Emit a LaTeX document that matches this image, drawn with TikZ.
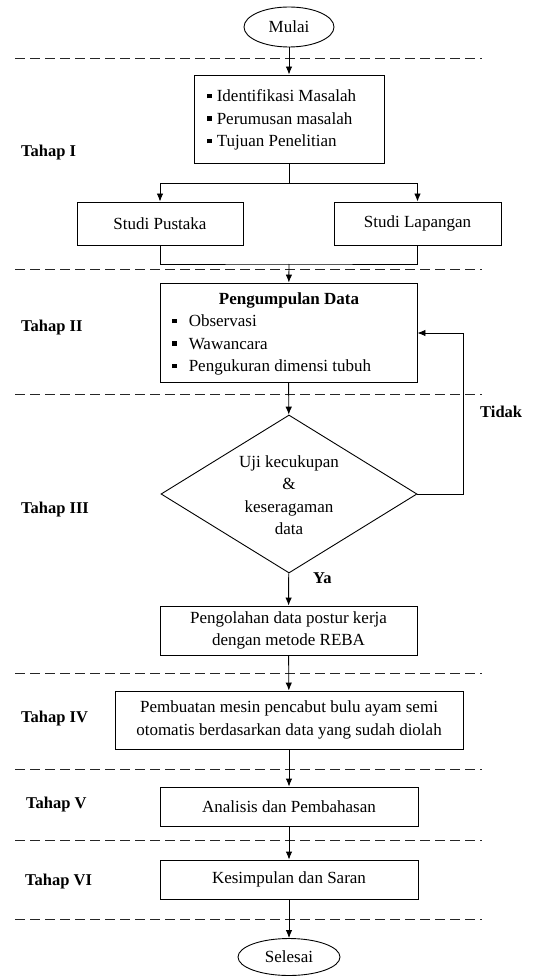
\documentclass[tikz,border=0pt]{standalone}
\usepackage{fontspec}
\setmainfont{Liberation Serif}
\usetikzlibrary{arrows.meta,shapes.geometric}
\newcommand{\sqbul}{\rule[0.2em]{0.27em}{0.27em}}
\begin{document}
\begin{tikzpicture}[x=1pt,y=-1pt,
 box/.style={draw,line width=0.9pt,inner sep=0pt,font=\fontsize{17}{22.5}\selectfont,align=center},
 txt/.style={inner sep=0pt,font=\fontsize{17}{22.5}\selectfont},
 lbl/.style={inner sep=0pt,anchor=west,font=\fontsize{16.5}{20}\selectfont\bfseries},
 term/.style={ellipse,draw,line width=0.9pt,inner sep=0pt,font=\fontsize{17}{22.5}\selectfont},
 arr/.style={line width=0.9pt,-{Latex[length=8pt,width=6.5pt]}},
 ln/.style={line width=0.9pt},
 sep/.style={line width=0.9pt,dash pattern=on 10pt off 5pt,black!85}]
\useasboundingbox (0,0) rectangle (553,976);
% separators
\foreach \yy in {58,269,394,673,769,840,919}
  \draw[sep] (15,\yy) -- (482,\yy);
% start
\node[term,minimum width=90pt,minimum height=40pt] (mulai) at (289,27) {Mulai};
% Tahap I
\node[box,minimum width=190pt,minimum height=88pt] (b1) at (289,119) {};
\node[txt,anchor=west,align=left] (b1t) at (207,120)
 {\sqbul\hspace{5pt}Identifikasi Masalah\\ \sqbul\hspace{5pt}Perumusan masalah\\ \sqbul\hspace{5pt}Tujuan Penelitian};
\draw[arr] (mulai) -- (b1);
\node[lbl] (t1) at (21,153) {Tahap I};
\node[box,minimum width=166pt,minimum height=43pt] (sp) at (160,223.5) {Studi Pustaka};
\node[box,minimum width=167pt,minimum height=43pt] (sl) at (417.5,223.5) {Studi Lapangan};
\coordinate (j1) at (289,183);
\draw[ln] (b1) -- (j1);
\draw[arr] (j1) -| (sp);
\draw[arr] (j1) -| (sl);
\coordinate (j2) at (289,264);
\draw[ln] (sp) |- (j2) -| (sl);
% Tahap II
\node[box,minimum width=257pt,minimum height=99pt] (b2) at (288.5,332.5) {};
\node[txt,font=\fontsize{17}{22.5}\selectfont\bfseries] (b2t) at (289,300) {Pengumpulan Data};
\node[txt,anchor=west,align=left] (b2l) at (172,345)
 {\sqbul\hspace{12pt}Observasi\\ \sqbul\hspace{12pt}Wawancara\\ \sqbul\hspace{12pt}Pengukuran dimensi tubuh};
\draw[arr] (j2) -- (b2);
\node[lbl] (t2) at (21,328) {Tahap II};
% Tahap III
\node[diamond,draw,line width=0.9pt,inner sep=0pt,minimum width=256pt,minimum height=158pt] (dia) at (289,494) {};
\node[txt,align=center] (diat) at (289,495) {Uji kecukupan\\\&\\keseragaman\\data};
\draw[arr] (b2) -- (dia);
\node[lbl] (tidak) at (480,412) {Tidak};
\coordinate (fb) at (463,333);
\draw[arr] (dia.east) -| (fb) -- (fb -| b2.east);
\node[lbl] (t3) at (21,510) {Tahap III};
\node[lbl] (ya) at (313,578) {Ya};
\node[box,minimum width=257pt,minimum height=49pt] (b3) at (288.5,630.5)
 {Pengolahan data postur kerja\\dengan metode REBA};
\draw[arr] (dia) -- (b3);
% Tahap IV
\node[box,minimum width=348pt,minimum height=58pt] (b4) at (289,720)
 {Pembuatan mesin pencabut bulu ayam semi\\otomatis berdasarkan data yang sudah diolah};
\draw[arr] (b3) -- (b4);
\node[lbl] (t4) at (21,719) {Tahap IV};
% Tahap V
\node[box,minimum width=258pt,minimum height=39pt] (b5) at (289,806.5) {Analisis dan Pembahasan};
\draw[arr] (b4) -- (b5);
\node[lbl] (t5) at (26,805) {Tahap V};
% Tahap VI
\node[box,minimum width=258pt,minimum height=39pt] (b6) at (289,879.5) {Kesimpulan dan Saran};
\draw[arr] (b5) -- (b6);
\node[lbl] (t6) at (25,882) {Tahap VI};
% end
\node[term,minimum width=102pt,minimum height=37pt] (selesai) at (289,957) {Selesai};
\draw[arr] (b6) -- (selesai);
\end{tikzpicture}
\end{document}
